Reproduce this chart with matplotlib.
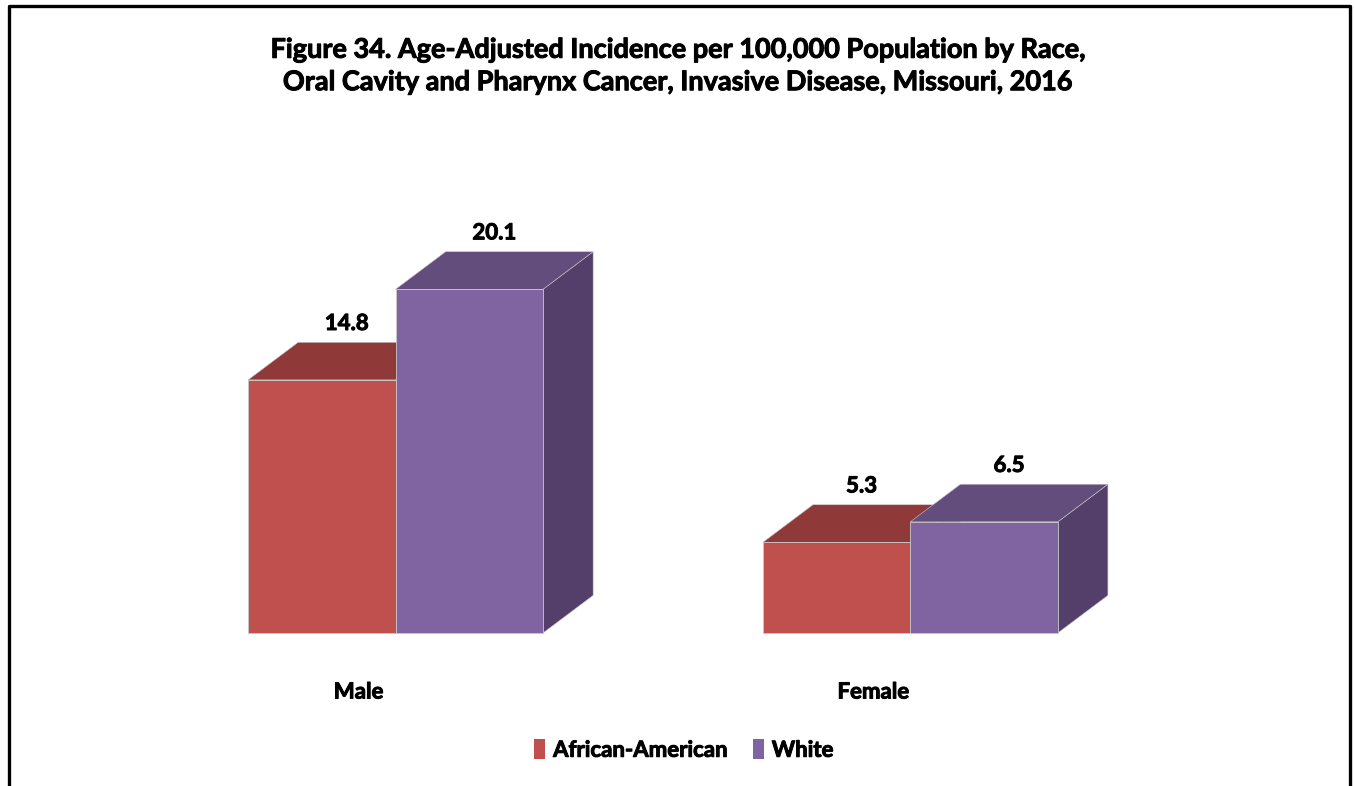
import numpy as np
import matplotlib
matplotlib.use("Agg")
import matplotlib.pyplot as plt
import matplotlib.patheffects as pe
from matplotlib.patches import Polygon, Patch
from matplotlib.lines import Line2D

# data
groups = ["Male", "Female"]
series = ["African-American", "White"]
values = {
    "African-American": [14.8, 5.3],
    "White": [20.1, 6.5],
}
title = ("Figure 34. Age-Adjusted Incidence per 100,000 Population by Race,\n"
         "Oral Cavity and Pharynx Cancer, Invasive Disease, Missouri, 2016")

# colours: front, top, side
colors = {
    "African-American": ("#C0504D", "#8F3A39", "#7A3130"),
    "White": ("#8064A2", "#634D7D", "#533F69"),
}

plt.rcParams['font.family'] = ['Lato', 'DejaVu Sans']
heavy = [pe.withStroke(linewidth=0.7, foreground="black")]

fig = plt.figure(figsize=(13.54, 7.86), dpi=100)
ax = fig.add_axes([248 / 1354, (786 - 633) / 786, 885 / 1354, 427.5 / 786])
ax.set_xlim(0, 6)
ax.set_ylim(0, 25)
ax.axis("off")

bar_w = 1.0
group_x = [0.0, 3.49]   # left edge of each group
dx, dy = 0.34, 2.2       # fake depth in data units

for gi, g in enumerate(groups):
    for si, s in enumerate(series):
        v = values[s][gi]
        x0 = group_x[gi] + si * bar_w
        x1 = x0 + bar_w
        front_c, top_c, side_c = colors[s]
        front = Polygon([(x0, 0), (x1, 0), (x1, v), (x0, v)], closed=True,
                        facecolor=front_c, edgecolor="#C8C8C8", lw=0.6)
        top = Polygon([(x0, v), (x1, v), (x1 + dx, v + dy), (x0 + dx, v + dy)],
                      closed=True, facecolor=top_c, edgecolor="#C8C8C8", lw=0.4)
        side = Polygon([(x1, 0), (x1 + dx, dy), (x1 + dx, v + dy), (x1, v)],
                       closed=True, facecolor=side_c, edgecolor="#C8C8C8", lw=0.4)
        for p in (side, top, front):
            p.set_clip_on(False)
            ax.add_patch(p)
        ax.text((x0 + x1) / 2 + dx / 2, v + dy + 1.1, f"{v:.1f}",
                ha="center", va="center", fontsize=16, fontweight="bold",
                clip_on=False, path_effects=heavy)
    ax.text(group_x[gi] + bar_w * 0.75, -3.45, g, ha="center", va="center",
            fontsize=16, fontweight="bold", clip_on=False, path_effects=heavy)

fig.text(0.5005, 1 - 66 / 786, title, ha="center", va="center",
         fontsize=19.5, fontweight="bold", linespacing=1.42, path_effects=heavy)

handles = [Patch(facecolor=colors[s][0], edgecolor="none") for s in series]
leg = fig.legend(handles, series, loc="center",
                 bbox_to_anchor=(684 / 1354, 1 - 750 / 786),
                 ncol=2, frameon=False, handlelength=0.5, handleheight=1.0,
                 handletextpad=0.35, columnspacing=1.1,
                 prop={"size": 16, "weight": "bold"})
for t in leg.get_texts():
    t.set_path_effects(heavy)

# border round the chart (bottom edge falls outside the picture)
bx0, bx1, by = 9 / 1354, 1349.5 / 1354, 1 - 6 / 786
fig.add_artist(Line2D([bx0, bx0, bx1, bx1], [0, by, by, 0], color="black",
                      lw=2.4, transform=fig.transFigure))

fig.savefig("out.png", dpi=100)
